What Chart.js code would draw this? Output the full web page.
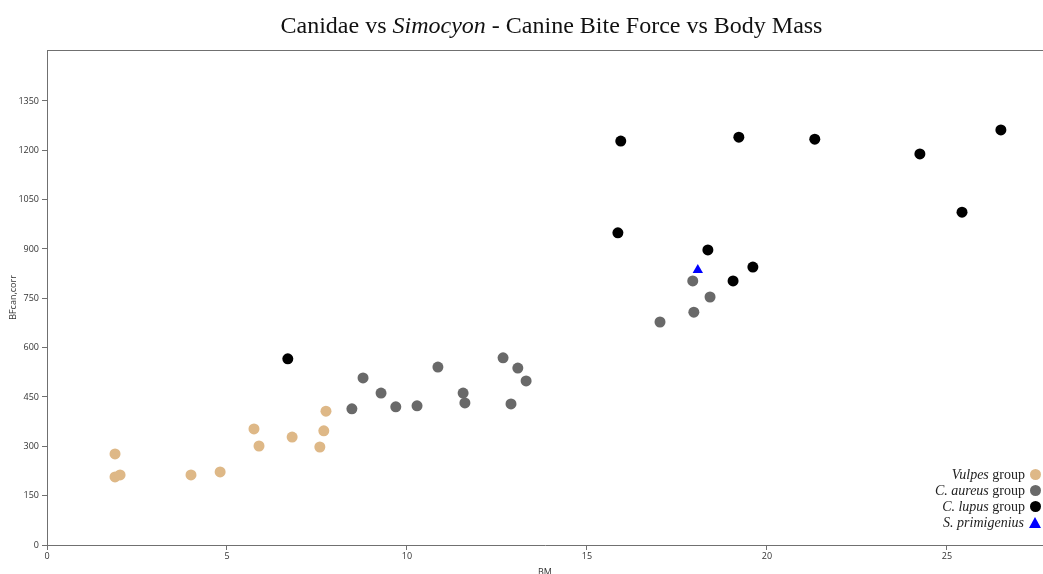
<!DOCTYPE html>
<html>
<head>
<meta charset="utf-8">
<script src="https://cdn.jsdelivr.net/npm/chart.js@4.4.0/dist/chart.umd.min.js"></script>
<style>
    body { margin: 0; background: #fff; }
    #wrap { position: relative; width: 1043px; height: 574px; overflow: hidden; }
    #chart { position: absolute; left: 0; top: 0; }
    #title {
        position: absolute; left: 0; width: 1103px; top: 12px; text-align: center;
        font-family: "Liberation Serif", serif; font-size: 24px; color: #111;
    }
    #legend {
        position: absolute; right: 2px; top: 467px;
        font-family: "Liberation Serif", serif; font-size: 14px; color: #222;
        text-align: right; line-height: 16px;
    }
    #legend .sym { display: inline-block; width: 11px; height: 11px; border-radius: 50%; margin-left: 5px; vertical-align: -1px; }
    #legend .tri { display: inline-block; width: 0; height: 0; margin-left: 5px;
        border-left: 6px solid transparent; border-right: 6px solid transparent; border-bottom: 11px solid #0000ff; vertical-align: -1px; }
</style>
</head>
<body>
<div id="wrap">
    <canvas id="chart" width="1043" height="574"></canvas>
    <div id="title">Canidae vs <i>Simocyon</i> - Canine Bite Force vs Body Mass</div>
    <div id="legend">
        <div><i>Vulpes</i> group<span class="sym" style="background:#deb887"></span></div>
        <div><i>C. aureus</i> group<span class="sym" style="background:#696969"></span></div>
        <div><i>C. lupus</i> group<span class="sym" style="background:#000"></span></div>
        <div><i>S. primigenius</i><span class="tri"></span></div>
    </div>
</div>
<script>
// body mass (BM) and corrected canine bite force, per group
const vulpesBM = [1.89, 1.89, 2.03, 4.0, 4.81, 5.75, 5.89, 6.81, 7.58, 7.69, 7.75];
const vulpesBF = [277, 207, 213, 213, 222, 353, 301, 328, 298, 347, 407];

const aureusBM = [8.47, 8.78, 9.28, 9.69, 10.28, 10.86, 11.56, 11.61, 12.67, 13.08, 13.31, 12.89, 17.94, 18.42, 17.97, 17.03];
const aureusBF = [414, 508, 462, 420, 423, 541, 462, 432, 569, 538, 499, 429, 803, 754, 708, 678];

const lupusBM = [6.69, 15.94, 19.22, 21.33, 24.25, 26.5, 25.42, 15.86, 18.36, 19.61, 19.06];
const lupusBF = [566, 1228, 1240, 1234, 1189, 1262, 1012, 949, 897, 845, 803];

const simocyonBM = [18.08];
const simocyonBF = [836];

const xTicks = [0, 5, 10, 15, 20, 25];
const yTicks = [0, 150, 300, 450, 600, 750, 900, 1050, 1200, 1350];

const toPoints = (xs, ys) => xs.map((x, i) => ({ x: x, y: ys[i] }));

const topLine = {
    id: 'topLine',
    afterDraw(chart) {
        const { ctx, chartArea } = chart;
        ctx.save();
        ctx.strokeStyle = '#707070';
        ctx.lineWidth = 1;
        ctx.beginPath();
        ctx.moveTo(chartArea.left, chartArea.top + 0.5);
        ctx.lineTo(chartArea.right, chartArea.top + 0.5);
        ctx.stroke();
        ctx.restore();
    }
};

const tickFont = { family: '"Open Sans", "DejaVu Sans", sans-serif', size: 9 };

new Chart(document.getElementById('chart'), {
    type: 'scatter',
    data: {
        datasets: [{
            label: 'Vulpes group',
            data: toPoints(vulpesBM, vulpesBF),
            backgroundColor: '#deb887',
            borderWidth: 0,
            pointRadius: 5.5
        }, {
            label: 'C. aureus group',
            data: toPoints(aureusBM, aureusBF),
            backgroundColor: '#696969',
            borderWidth: 0,
            pointRadius: 5.5
        }, {
            label: 'C. lupus group',
            data: toPoints(lupusBM, lupusBF),
            backgroundColor: '#000000',
            borderWidth: 0,
            pointRadius: 5.5
        }, {
            label: 'S. primigenius',
            data: toPoints(simocyonBM, simocyonBF),
            backgroundColor: '#0000ff',
            borderWidth: 0,
            pointStyle: 'triangle',
            pointRadius: 6
        }]
    },
    options: {
        responsive: false,
        animation: false,
        layout: { autoPadding: false, padding: { top: 50, right: 0, left: 0, bottom: 0 } },
        plugins: {
            legend: { display: false },
            tooltip: { enabled: false }
        },
        scales: {
            x: {
                type: 'linear',
                min: 0,
                max: 27.67,
                afterBuildTicks: scale => { scale.ticks = xTicks.map(v => ({ value: v })); },
                afterFit: scale => { scale.height = 29; },
                grid: { display: true, drawOnChartArea: false, drawTicks: true, tickLength: 5, color: '#707070' },
                border: { display: true, color: '#707070' },
                ticks: { font: tickFont, color: '#333', padding: 1, maxRotation: 0, callback: v => String(v) },
                title: { display: true, text: 'BM', font: tickFont, color: '#333', padding: { top: 0, bottom: -4 } }
            },
            y: {
                type: 'linear',
                min: 0,
                max: 1505,
                afterBuildTicks: scale => { scale.ticks = yTicks.map(v => ({ value: v })); },
                afterFit: scale => { scale.width = 47; },
                grid: { display: true, drawOnChartArea: false, drawTicks: true, tickLength: 5, color: '#707070' },
                border: { display: true, color: '#707070' },
                ticks: { font: tickFont, color: '#333', padding: 3, callback: v => String(v) },
                title: { display: true, text: 'BFcan,corr', font: tickFont, color: '#333', padding: { top: 8, bottom: 0 } }
            }
        }
    },
    plugins: [topLine]
});
</script>
</body>
</html>
